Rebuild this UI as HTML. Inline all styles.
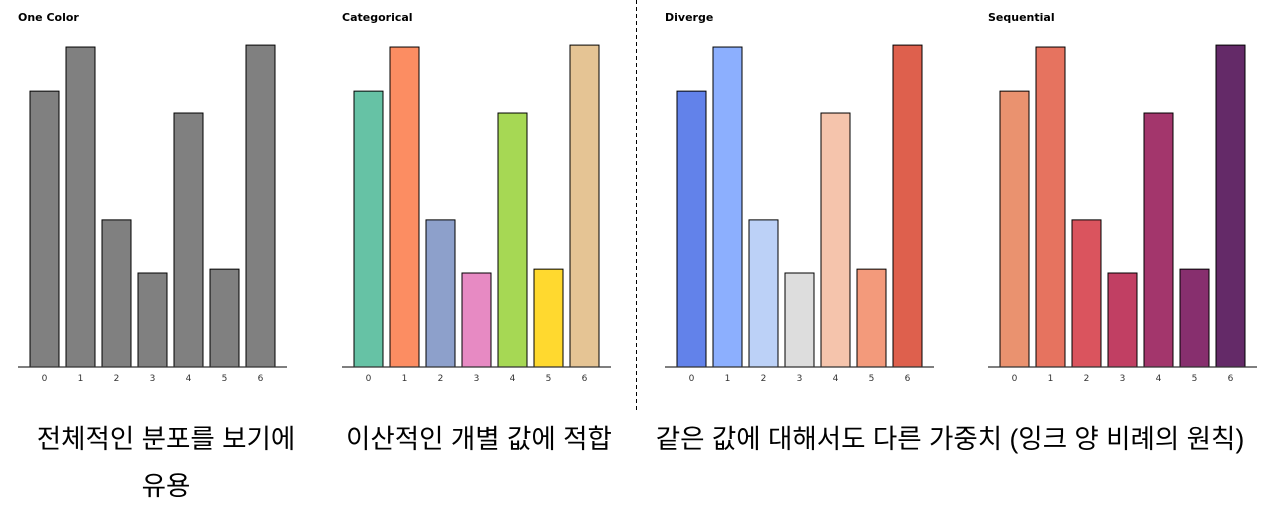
<!DOCTYPE html>
<html><head><meta charset="utf-8">
<style>
body{margin:0;background:#fff;width:1279px;height:510px;overflow:hidden;position:relative;font-family:"Liberation Sans","DejaVu Sans",sans-serif}
.cap{position:absolute;font-family:"Liberation Sans","Noto Sans CJK KR",sans-serif;font-size:26.5px;color:#000;text-align:center;line-height:47px;white-space:normal}
</style></head>
<body>
<svg id="chart" width="1279" height="410" style="position:absolute;left:0;top:0"></svg>
<div class="cap" style="left:26px;top:416px;width:280px">전체적인 분포를 보기에 유용</div>
<div class="cap" style="left:324px;top:416px;width:310px;white-space:nowrap">이산적인 개별 값에 적합</div>
<div class="cap" style="left:630px;top:416px;width:640px;white-space:nowrap">같은 값에 대해서도 다른 가중치 (잉크 양 비례의 원칙)</div>
<script>
const categories=["0","1","2","3","4","5","6"];
const values=[0.857,0.994,0.457,0.292,0.789,0.304,1.0];
const titles=["One Color","Categorical","Diverge","Sequential"];
const paletteOne=["#808080","#808080","#808080","#808080","#808080","#808080","#808080"];
const paletteCat=["#66c2a5","#fc8d62","#8da0cb","#e78ac3","#a6d854","#ffd92f","#e5c494"];
const paletteDiv=["#6282ea","#8caffe","#bcd1f7","#dddddd","#f5c4ac","#f39a7b","#de604d"];
const paletteSeq=["#ea926f","#e6735f","#da545e","#c13f63","#a3366c","#872f6e","#642a68"];
const palettes=[paletteOne,paletteCat,paletteDiv,paletteSeq];
const offsets=[0,324,647,970];
const NS="http://www.w3.org/2000/svg";
const svg=document.getElementById('chart');
function mk(t,a){const e=document.createElementNS(NS,t);for(const k in a)e.setAttribute(k,a[k]);return e;}
const base=367, top0=29;
const yMax=Math.max(...values)*1.05;
function y(v){return base-(v/yMax)*(base-top0);}
function x(i,off){return off+30+i*36;}
offsets.forEach((off,p)=>{
  const g=mk('g',{});
  
  
  const t=mk('text',{x:off+18,y:21,'font-size':11,'font-weight':'bold','font-family':'DejaVu Sans, sans-serif'});
  
  
  t.textContent=titles[p];g.appendChild(t);
  values.forEach((v,i)=>{
    const r=mk('rect',{x:x(i,off),y:y(v),width:29,height:base-y(v),fill:palettes[p][i],stroke:'#000','stroke-width':1});
    
    
    g.appendChild(r);
    const l=mk('text',{x:x(i,off)+14.5,y:381,'font-size':9,'text-anchor':'middle',fill:'#333','font-family':'DejaVu Sans, sans-serif'});
    
    
    l.textContent=categories[i];g.appendChild(l);
  });
  const ax=mk('line',{x1:off+18,x2:off+287,y1:base,y2:base,stroke:'#333','stroke-width':1.2});
  
  
  g.appendChild(ax);
  svg.appendChild(g);
});
const d=mk('line',{x1:636.5,x2:636.5,y1:0,y2:410,stroke:'#000','stroke-width':1,'stroke-dasharray':'4,3'});


svg.appendChild(d);
</script>
</body></html>
